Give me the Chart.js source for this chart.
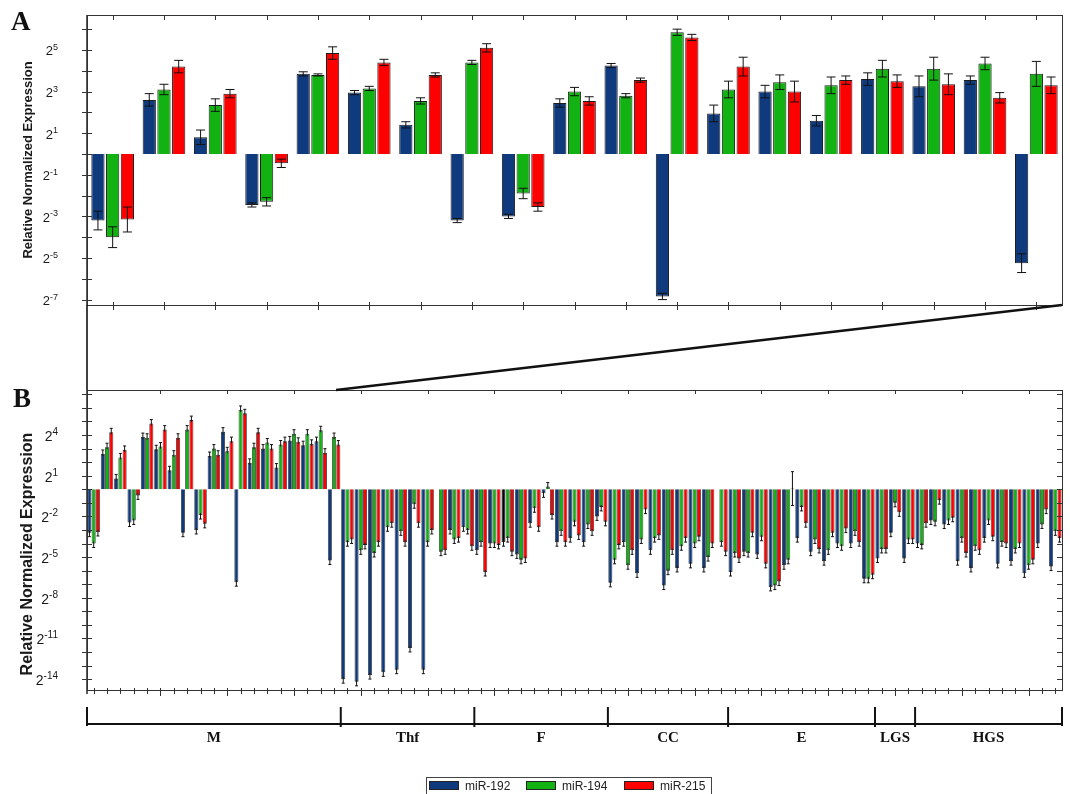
<!DOCTYPE html>
<html>
<head>
<meta charset="utf-8">
<script src="https://cdn.jsdelivr.net/npm/chart.js@4.4.1/dist/chart.umd.min.js"></script>
<style>
  body { margin: 0; background: #fff; width: 1070px; height: 794px; overflow: hidden; position: relative; }
  #chartA { position: absolute; left: 0; top: 0; }
  #chartB { position: absolute; left: 0; top: 300px; }
</style>
</head>
<body>
<canvas id="chartA" width="1070" height="320"></canvas>
<canvas id="chartB" width="1070" height="494"></canvas>
<script>
// sample groups (bottom bracket of panel B)
const groupNames = ['M', 'Thf', 'F', 'CC', 'E', 'LGS', 'HGS'];
const groupSizes = [19, 10, 10, 9, 11, 3, 11];
const seriesNames = ['miR-192', 'miR-194', 'miR-215'];

// tick labels, as powers of 2
const tickExpA = [5, 3, 1, -1, -3, -5, -7];
const tickExpB = [4, 1, -2, -5, -8, -11, -14];

// panel A: log2 relative expression, M samples
const miR192A = [-3.2, 2.6, 0.8, -2.45, 3.85, 2.95, 1.4, -3.2, -3.0, 2.45, 4.25, -6.85, 1.95, 3.0, 1.6, 3.6, 3.25, 3.55, -5.25];
const miR194A = [-4.0, 3.1, 2.35, -2.3, 3.8, 3.15, 2.55, 4.4, -1.9, 3.0, 2.8, 5.85, 3.1, 3.45, 3.3, 4.1, 4.1, 4.35, 3.85];
const miR215A = [-3.15, 4.2, 2.9, -0.45, 4.85, 4.4, 3.8, 5.1, -2.55, 2.55, 3.55, 5.6, 4.2, 3.0, 3.55, 3.5, 3.35, 2.7, 3.3];
const err192A = [0.45, 0.3, 0.35, 0.1, 0.1, 0.1, 0.15, 0.1, 0.1, 0.2, 0.1, 0.15, 0.4, 0.3, 0.25, 0.3, 0.5, 0.2, 0.45];
const err194A = [0.5, 0.25, 0.3, 0.2, 0.05, 0.1, 0.15, 0.1, 0.25, 0.2, 0.1, 0.15, 0.4, 0.35, 0.4, 0.4, 0.55, 0.3, 0.6];
const err215A = [0.6, 0.3, 0.2, 0.2, 0.3, 0.15, 0.1, 0.2, 0.2, 0.2, 0.1, 0.15, 0.45, 0.5, 0.2, 0.3, 0.5, 0.25, 0.4];

// panel B: remaining samples (Thf, F, CC, E, LGS, HGS)
const miR192Rest = [-14.0, -14.2, -13.7, -13.5, -13.3, -11.7, -13.3, null, -3.0, -2.8,
  -4.5, -4.0, -3.9, -4.8, -2.5, -0.3, -3.9, -3.6, -3.9, -2.0,
  -6.9, -3.9, -6.2, -4.5, -7.1, -5.8, -5.5, -5.8, null,
  -6.1, -4.6, -4.8, -7.2, -5.6, -3.6, -4.6, -5.3, -4.0, -4.0, -6.6,
  -5.1, -3.2, -5.1,
  -4.0, -2.3, -2.6, -5.3, -5.8, -3.6, -5.5, -5.3, -6.2, -4.0, -5.7];
const miR194Rest = [-3.9, -4.5, -4.7, -2.8, -3.1, -1.1, -3.9, -4.6, -3.7, -3.0,
  -3.9, -4.0, -3.6, -5.2, -1.4, 0.2, -3.1, -2.4, -2.6, -1.3,
  -5.2, -5.6, -3.7, -3.6, -6.0, -4.2, -4.0, -5.0, -3.9,
  -4.7, -4.7, -3.5, -7.1, -5.2, -1.3, -3.7, -4.5, -4.2, -3.1, -6.6,
  -4.4, -1.0, -3.7,
  -4.1, -2.4, -2.3, -3.6, -4.2, -2.3, -3.9, -4.4, -5.6, -2.6, -3.1];
const miR215Rest = [-3.7, -4.1, -3.9, -2.5, -3.9, -2.5, -3.0, -4.5, -3.6, -4.2,
  -6.1, -4.1, -4.6, -5.1, -2.8, -1.9, -3.9, -3.4, -3.1, -2.4,
  -4.1, -4.5, -1.5, -3.4, -4.5, -3.6, -3.5, -4.0, -4.6,
  -5.1, -3.2, -5.5, -6.8, 0.05, -2.5, -4.4, -3.2, -2.9, -3.9, -6.3,
  -4.4, -1.7, -3.7,
  -2.5, -0.8, -2.1, -4.7, -4.5, -3.5, -4.0, -4.0, -5.2, -1.5, -3.6];
// the one wide error bar in panel B (sample index, series index, log2 err)
const wideErrB = [{ sample: 52, series: 2, err: 1.25 }];
const blackBarB = 31; // this miR-192 bar is drawn black in the original

const blue = '#0f3b7e', green = '#12b212', red = '#ff0000';
const colours = [blue, green, red];
const sans = '"Liberation Sans", Arial, sans-serif';
const serif = '"Liberation Serif", "Times New Roman", serif';

const labelsB = groupNames.flatMap((g, gi) => Array.from({ length: groupSizes[gi] }, (_, k) => g + (k + 1)));
const labelsA = labelsB.slice(0, groupSizes[0]);

// "2" with a raised exponent, right aligned at xRight
function drawPow(ctx, xRight, yTick, exp, size) {
    const sup = String(exp);
    ctx.fillStyle = '#1a1a1a';
    ctx.textAlign = 'left';
    ctx.textBaseline = 'alphabetic';
    ctx.font = `${Math.round(size * 0.72)}px ${sans}`;
    const ws = ctx.measureText(sup).width;
    const base = yTick + size * 0.42;
    ctx.fillText(sup, xRight - ws, base - size * 0.42);
    ctx.font = `${size}px ${sans}`;
    const wb = ctx.measureText('2').width;
    ctx.fillText('2', xRight - ws - wb, base);
}

function line(ctx, x1, y1, x2, y2) {
    ctx.beginPath();
    ctx.moveTo(x1, y1);
    ctx.lineTo(x2, y2);
    ctx.stroke();
}

function yTitle(ctx, x, y, size) {
    ctx.save();
    ctx.translate(x, y);
    ctx.rotate(-Math.PI / 2);
    ctx.fillStyle = '#1a1a1a';
    ctx.font = `bold ${size}px ${sans}`;
    ctx.textAlign = 'center';
    ctx.textBaseline = 'middle';
    ctx.fillText('Relative Normalized Expression', 0, 0);
    ctx.restore();
}

function panelLetter(ctx, text, x, y) {
    ctx.fillStyle = '#111';
    ctx.font = `bold 27px ${serif}`;
    ctx.textAlign = 'left';
    ctx.textBaseline = 'alphabetic';
    ctx.fillText(text, x, y);
}

const panelAPlugin = {
    id: 'panelA',
    afterDatasetsDraw(chart) {
        const ctx = chart.ctx;
        const ys = chart.scales.y;
        const errs = [err192A, err194A, err215A];
        ctx.save();
        ctx.strokeStyle = '#111';
        ctx.lineWidth = 1;
        chart.data.datasets.forEach((ds, di) => {
            chart.getDatasetMeta(di).data.forEach((bar, i) => {
                const v = ds.data[i];
                if (v == null) return;
                const e = errs[di][i];
                const y1 = ys.getPixelForValue(v - e), y2 = ys.getPixelForValue(v + e);
                line(ctx, bar.x, y1, bar.x, y2);
                line(ctx, bar.x - 4.5, y1, bar.x + 4.5, y1);
                line(ctx, bar.x - 4.5, y2, bar.x + 4.5, y2);
            });
        });
        ctx.restore();
    },
    afterDraw(chart) {
        const ctx = chart.ctx;
        const { left, right, top, bottom } = chart.chartArea;
        const xs = chart.scales.x, ys = chart.scales.y;
        ctx.save();
        ctx.strokeStyle = '#333';
        ctx.lineWidth = 1;
        ctx.strokeRect(left + 0.5, top + 0.5, right - left, bottom - top);
        ctx.lineWidth = 1.6;
        line(ctx, left, top, left, bottom);
        ctx.lineWidth = 1;
        // y ticks at every power
        for (let e = Math.ceil(ys.min); e <= Math.floor(ys.max); e++) {
            const y = Math.round(ys.getPixelForValue(e)) + 0.5;
            line(ctx, left - 5, y, left + 5, y);
        }
        // x ticks
        labelsA.forEach((_, i) => {
            const x = Math.round(xs.getPixelForValue(i)) + 0.5;
            line(ctx, x, bottom - 3, x, bottom + 5);
            line(ctx, x, top, x, top + 5);
        });
        tickExpA.forEach(e => drawPow(ctx, left - 29, ys.getPixelForValue(e), e, 13));
        yTitle(ctx, 28, (top + bottom) / 2, 13);
        panelLetter(ctx, 'A', 11, 30);
        ctx.restore();
    }
};

const chartA = new Chart(document.getElementById('chartA'), {
    type: 'bar',
    data: {
        labels: labelsA,
        datasets: [miR192A, miR194A, miR215A].map((d, i) => ({
            label: seriesNames[i],
            data: d,
            backgroundColor: colours[i],
            borderColor: '#1c1c1c',
            borderWidth: 1
        }))
    },
    options: {
        responsive: false,
        animation: false,
        layout: { padding: { left: 0, right: 8, top: 15, bottom: 15 } },
        datasets: { bar: { categoryPercentage: 0.86, barPercentage: 0.9 } },
        plugins: { legend: { display: false }, tooltip: { enabled: false } },
        scales: {
            x: {
                grid: { display: false }, border: { display: false }, ticks: { display: false },
                afterFit: s => { s.height = 0; }
            },
            y: {
                min: -7.26, max: 6.68,
                grid: { display: false }, border: { display: false }, ticks: { display: false },
                afterFit: s => { s.width = 87; }
            }
        }
    },
    plugins: [panelAPlugin]
});

const panelBPlugin = {
    id: 'panelB',
    afterDatasetsDraw(chart) {
        const ctx = chart.ctx;
        const ys = chart.scales.y;
        ctx.save();
        ctx.strokeStyle = '#111';
        ctx.lineWidth = 1;
        chart.data.datasets.forEach((ds, di) => {
            chart.getDatasetMeta(di).data.forEach((bar, i) => {
                const v = ds.data[i];
                if (v == null) return;
                const wide = wideErrB.find(w => w.sample === i && w.series === di);
                if (wide) {
                    const y1 = ys.getPixelForValue(v - wide.err), y2 = ys.getPixelForValue(v + wide.err);
                    line(ctx, bar.x, y1, bar.x, y2);
                    line(ctx, bar.x - 1.5, y1, bar.x + 1.5, y1);
                    line(ctx, bar.x - 1.5, y2, bar.x + 1.5, y2);
                    return;
                }
                const dir = v < 0 ? 1 : -1;
                const yEnd = bar.y + dir * 4;
                line(ctx, bar.x, bar.y - dir * 2, bar.x, yEnd);
                line(ctx, bar.x - 1.5, yEnd, bar.x + 1.5, yEnd);
            });
        });
        ctx.restore();
    },
    afterDraw(chart) {
        const ctx = chart.ctx;
        const { left, right, top, bottom } = chart.chartArea;
        const xs = chart.scales.x, ys = chart.scales.y;
        const step = xs.getPixelForValue(1) - xs.getPixelForValue(0);
        ctx.save();
        ctx.strokeStyle = '#333';
        ctx.lineWidth = 1;
        ctx.strokeRect(left + 0.5, top + 0.5, right - left, bottom - top);
        ctx.lineWidth = 1.6;
        line(ctx, left, top, left, bottom + 4);
        ctx.lineWidth = 1;
        for (let e = Math.ceil(ys.min); e <= Math.floor(ys.max); e++) {
            const y = Math.round(ys.getPixelForValue(e)) + 0.5;
            line(ctx, left - 5, y, left + 5, y);
            line(ctx, right - 5, y, right, y);
        }
        labelsB.forEach((_, i) => {
            const x = Math.round(xs.getPixelForValue(i)) + 0.5;
            const major = i % 5 === 0 && i > 0;
            line(ctx, x, bottom - 2, x, bottom + (major ? 6 : 4));
            if (major) line(ctx, x, top, x, top + 4);
        });
        tickExpB.forEach(e => drawPow(ctx, left - 29, ys.getPixelForValue(e), e, 14));
        yTitle(ctx, 28, 254, 16);
        panelLetter(ctx, 'B', 13, 107);

        // zoom lines from panel A down to the M samples of panel B
        const aBottom = chartA.chartArea.bottom - 300;
        ctx.strokeStyle = '#111';
        ctx.lineWidth = 1.6;
        line(ctx, left, aBottom, left, top);
        ctx.lineWidth = 2.6;
        line(ctx, chartA.chartArea.right, aBottom, xs.getPixelForValue(groupSizes[0] - 1) + 2, top);

        // group bracket
        const yBr = 424;
        ctx.lineWidth = 2;
        ctx.strokeStyle = '#111';
        let start = 0;
        const edges = [xs.getPixelForValue(0) - step / 2];
        groupSizes.forEach(n => { start += n; edges.push(xs.getPixelForValue(start - 1) + step / 2); });
        line(ctx, edges[0], yBr, edges[edges.length - 1], yBr);
        edges.forEach((x, k) => line(ctx, x, 407, x, k === 0 || k === edges.length - 1 ? yBr + 2 : yBr + 3));
        ctx.fillStyle = '#111';
        ctx.font = `bold 15px ${serif}`;
        ctx.textAlign = 'center';
        ctx.textBaseline = 'middle';
        groupNames.forEach((g, k) => ctx.fillText(g, (edges[k] + edges[k + 1]) / 2, 438));

        // legend
        ctx.lineWidth = 1;
        ctx.strokeStyle = '#444';
        ctx.strokeRect(426.5, 477.5, 285, 17);
        const itemX = [429, 526, 624];
        ctx.font = `12px ${sans}`;
        ctx.textAlign = 'left';
        ctx.textBaseline = 'middle';
        seriesNames.forEach((name, k) => {
            ctx.fillStyle = colours[k];
            ctx.fillRect(itemX[k], 481, 30, 9);
            ctx.strokeStyle = '#222';
            ctx.strokeRect(itemX[k] + 0.5, 481.5, 29, 8);
            ctx.fillStyle = '#222';
            ctx.fillText(name, itemX[k] + 36, 486.5);
        });
        ctx.restore();
    }
};

new Chart(document.getElementById('chartB'), {
    type: 'bar',
    data: {
        labels: labelsB,
        datasets: [
            miR192A.concat(miR192Rest),
            miR194A.concat(miR194Rest),
            miR215A.concat(miR215Rest)
        ].map((d, i) => ({
            label: seriesNames[i],
            data: d,
            backgroundColor: i === 0 ? d.map((_, k) => k === blackBarB ? '#000' : blue) : colours[i],
            borderColor: '#2a2a2a',
            borderWidth: 0.8
        }))
    },
    options: {
        responsive: false,
        animation: false,
        layout: { padding: { left: 0, right: 8, top: 90, bottom: 104 } },
        datasets: { bar: { categoryPercentage: 0.95, barPercentage: 0.95 } },
        plugins: { legend: { display: false }, tooltip: { enabled: false } },
        scales: {
            x: {
                grid: { display: false }, border: { display: false }, ticks: { display: false },
                afterFit: s => { s.height = 0; }
            },
            y: {
                min: -14.8, max: 7.32,
                grid: { display: false }, border: { display: false }, ticks: { display: false },
                afterFit: s => { s.width = 87; }
            }
        }
    },
    plugins: [panelBPlugin]
});
</script>
</body>
</html>
